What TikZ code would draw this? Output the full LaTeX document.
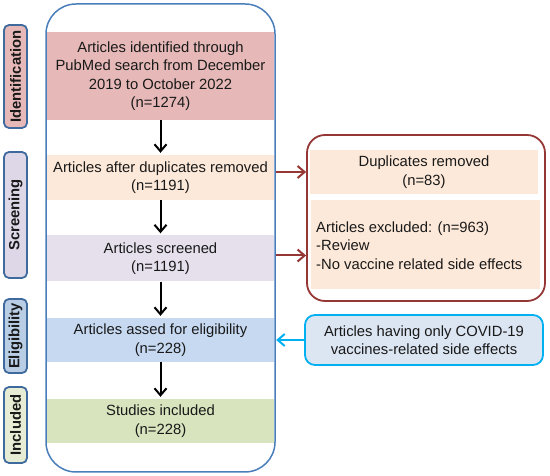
\documentclass[tikz,border=0pt]{standalone}
\usepackage{fontspec}
\setmainfont{Liberation Sans}
\usetikzlibrary{arrows.meta}
\definecolor{cPink}{HTML}{E6B9B8}
\definecolor{cPeach}{HTML}{FDE9D9}
\definecolor{cLav}{HTML}{E5E0EC}
\definecolor{cBlue}{HTML}{C6D9F1}
\definecolor{cGreen}{HTML}{D7E4BD}
\definecolor{cOuter}{HTML}{4A7EBB}
\definecolor{cPhase}{HTML}{3F6A9E}
\definecolor{cLavL}{HTML}{DDD7E8}
\definecolor{cBlueL}{HTML}{B9CDE5}
\definecolor{cGreenL}{HTML}{E6EDD4}
\definecolor{cRed}{HTML}{953735}
\definecolor{cCyan}{HTML}{00B0F0}
\definecolor{cCyanFill}{HTML}{DCE6F2}
\begin{document}
\begin{tikzpicture}[x=1pt,y=-1pt,
  every node/.style={font=\fontsize{14.8}{18.5}\selectfont, inner sep=0pt, text=black!90},
  mainbox/.style={minimum width=227pt, align=center},
  phase/.style={rounded corners=5pt, draw=cPhase, line width=1.8pt, minimum height=23pt, rotate=90,
     font=\fontsize{14.8}{18}\selectfont\bfseries},
  flowarrow/.style={-{Straight Barb[length=7pt,width=12pt]}, line width=2pt, shorten >=2pt},
  redarrow/.style={-{Straight Barb[length=7pt,width=12pt]}, line width=2pt, draw=cRed},
  cyanarrow/.style={-{Straight Barb[length=7pt,width=12pt]}, line width=2pt, draw=cCyan}]
\useasboundingbox (0,0) rectangle (550,476);
% main column boxes
\node[mainbox, fill=cPink, minimum height=88pt] (b1) at (160.5,76)
  {Articles identified through\\PubMed search from December\\2019 to October 2022\\(n=1274)};
\node[mainbox, fill=cPeach, minimum height=45pt] (b2) at (160.5,177.5)
  {Articles after duplicates removed\\(n=1191)};
\node[mainbox, fill=cLav, minimum height=46pt] (b3) at (160.5,258.5)
  {Articles screened\\(n=1191)};
\node[mainbox, fill=cBlue, minimum height=44pt] (b4) at (160.5,340)
  {Articles assed for eligibility\\(n=228)};
\node[mainbox, fill=cGreen, minimum height=44pt] (b5) at (160.5,421)
  {Studies included\\(n=228)};
% outer frame
\draw[cOuter, line width=1.5pt, rounded corners=30pt] (46,4) rectangle (275,472);
% phase labels
\node[phase, fill=cPink, minimum width=103pt] (p1) at (15.5,76.5) {Identification};
\node[phase, fill=cLavL, minimum width=126pt] (p2) at (15.5,215) {Screening};
\node[phase, fill=cBlueL, minimum width=74pt] (p3) at (15.5,336) {Eligibility};
\node[phase, fill=cGreenL, minimum width=76pt] (p4) at (15.5,425) {Included};
% flow arrows
\draw[flowarrow] (b1.south) -- (b2.north);
\draw[flowarrow] (b2.south) -- (b3.north);
\draw[flowarrow] (b3.south) -- (b4.north);
\draw[flowarrow] (b4.south) -- (b5.north);
% exclusion box
\node[draw=cRed, line width=1.8pt, rounded corners=18pt, minimum width=238pt, minimum height=166pt] (rb) at (426,218) {};
\node[fill=cPeach, minimum width=228pt, minimum height=44pt, align=center] (dup) at (424,172)
  {Duplicates removed\\(n=83)};
\node[fill=cPeach, minimum width=229pt, minimum height=89pt] (exc) at (425.5,244.5) {};
\node[align=left, anchor=west] (exct) at (316,245.5)
  {Articles excluded: (n=963)\\-Review\\-No vaccine related side effects};
\coordinate (r1) at ([xshift=2pt]b2.east |- dup);
\coordinate (r2) at ([xshift=2pt,yshift=3pt]b3.east);
\draw[redarrow] (r1) -- (rb.west |- r1);
\draw[redarrow] (r2) -- (rb.west |- r2);
% eligibility note
\node[draw=cCyan, fill=cCyanFill, line width=1.8pt, rounded corners=10pt, minimum width=238pt, minimum height=50pt, align=center] (cv) at (424,340)
  {Articles having only COVID-19\\vaccines-related side effects};
\draw[cyanarrow] (cv.west) -- ([xshift=2pt]b4.east);
\end{tikzpicture}
\end{document}
